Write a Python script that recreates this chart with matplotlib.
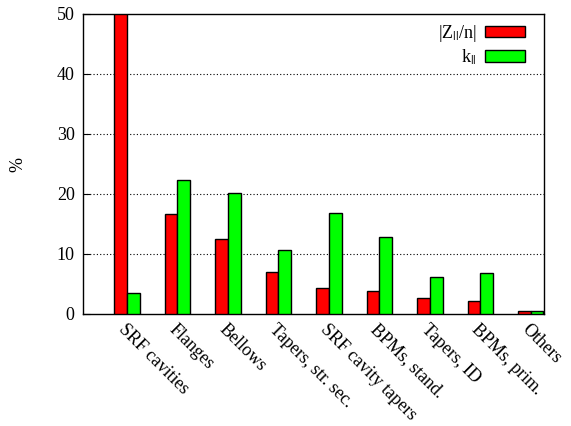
import numpy as np
import matplotlib
matplotlib.use("Agg")
import matplotlib.pyplot as plt

categories = ["SRF cavities", "Flanges", "Bellows", "Tapers, str. sec.",
              "SRF cavity tapers", "BPMs, stand.", "Tapers, ID",
              "BPMs, prim.", "Others"]
z_over_n = [50.0, 16.6, 12.5, 7.0, 4.4, 3.9, 2.6, 2.2, 0.5]
k_loss = [3.5, 22.3, 20.1, 10.6, 16.8, 12.8, 6.2, 6.9, 0.5]

plt.rcParams['font.family'] = ['Liberation Serif', 'DejaVu Serif']
plt.rcParams['mathtext.fontset'] = 'stix'

fig = plt.figure(figsize=(5.71, 4.26), dpi=100)
ax = fig.add_axes([83 / 571, 1 - 314 / 426, 461 / 571, 300 / 426])

x = np.arange(len(categories))
w = 0.25
ax.bar(x - w / 2, z_over_n, w, color="#ff0000", edgecolor="black",
       linewidth=1, label=r"|Z$_{||}$/n|", zorder=3)
ax.bar(x + w / 2, k_loss, w, color="#00ff00", edgecolor="black",
       linewidth=1, label=r"k$_{||}$", zorder=3)

ax.set_xlim(-0.87, 8.26)
ax.set_ylim(0, 50)
ax.set_yticks([0, 10, 20, 30, 40, 50])
for yv in [10, 20, 30, 40]:
    ax.axhline(yv, color="black", linestyle=(0, (1, 2)), linewidth=0.8, zorder=1)

ax.set_xticks(x)
ax.set_xticklabels(categories, rotation=-45, ha="left", va="top",
                   rotation_mode="anchor", fontsize=13)
ax.tick_params(axis="x", length=0, pad=5)
ax.tick_params(axis="y", direction="in", length=5, labelsize=13, pad=6)
for s in ax.spines.values():
    s.set_linewidth(1)

ax.set_ylabel("%", fontsize=13, labelpad=22)

ax.legend(loc="upper right", bbox_to_anchor=(0.974, 0.995),
          markerfirst=False, frameon=False, fontsize=13,
          handlelength=2.2, handleheight=0.6, borderaxespad=0.1,
          borderpad=0.3, labelspacing=0.2, handletextpad=0.45)

plt.savefig("out.png", dpi=100)
